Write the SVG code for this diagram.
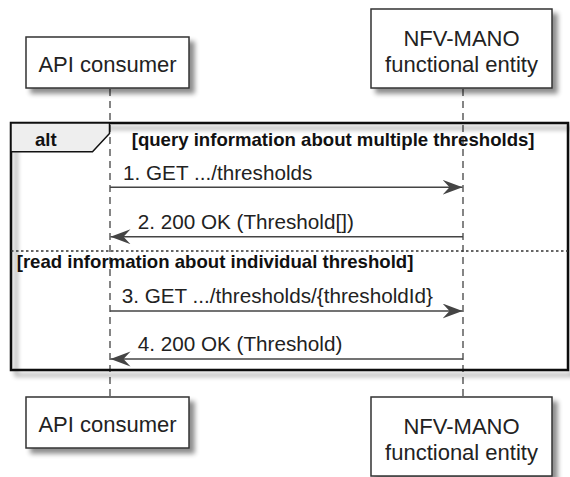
<svg xmlns="http://www.w3.org/2000/svg" width="570" height="477" viewBox="0 0 570 477">
<defs>
<filter id="sh" x="-10%" y="-10%" width="130%" height="140%">
<feGaussianBlur in="SourceAlpha" stdDeviation="2.5"/>
<feOffset dx="5" dy="5" result="b"/>
<feComponentTransfer><feFuncA type="linear" slope="0.45"/></feComponentTransfer>
<feMerge><feMergeNode/><feMergeNode in="SourceGraphic"/></feMerge>
</filter>
<marker id="ah" markerUnits="userSpaceOnUse" markerWidth="22" markerHeight="16" refX="20" refY="7.5" orient="auto">
<path d="M0,0 L20,7.5 L0,15 L7,7.5 Z" fill="#444"/>
</marker>
<style>
.box{fill:#fff;stroke:#333;stroke-width:1.5}
.pt{font-family:"Liberation Sans",Arial,sans-serif;font-size:22px;fill:#222;text-anchor:middle}
.msg{font-family:"Liberation Sans",Arial,sans-serif;font-size:20.7px;fill:#222}
.cond{font-family:"Liberation Sans",Arial,sans-serif;font-size:18.6px;font-weight:bold;fill:#111}
.life{stroke:#444;stroke-width:1.3;stroke-dasharray:7,5;fill:none}
.arr{stroke:#444;stroke-width:1.5;fill:none;marker-end:url(#ah)}
</style>
</defs>
<rect width="570" height="477" fill="#fff"/>
<g id="lifelines">
<line class="life" x1="110" y1="89" x2="110" y2="397"/>
<line class="life" x1="463" y1="89" x2="463" y2="397"/>
</g>
<g id="participant-api-top">
<rect class="box" x="26" y="37" width="163" height="51" filter="url(#sh)"/>
<text class="pt" x="107.5" y="72">API consumer</text>
</g>
<g id="participant-nfv-top">
<rect class="box" x="371" y="9" width="181" height="79" filter="url(#sh)"/>
<text class="pt" x="461.5" y="46">NFV-MANO</text>
<text class="pt" x="461.5" y="71.5">functional entity</text>
</g>
<g id="alt-frame">
<rect x="11" y="123" width="557" height="247" fill="none" stroke="#111" stroke-width="2.5" filter="url(#sh)"/>
<polygon points="11,123 109.5,123 109.5,133.5 92.5,151.7 11,151.7" fill="#eee" stroke="#111" stroke-width="1.5"/>
<text class="cond" x="35" y="146" font-size="21px">alt</text>
<text class="cond" x="131.7" y="146">[query information about multiple thresholds]</text>
<line x1="11" y1="251" x2="568" y2="251" stroke="#333" stroke-width="1.3" stroke-dasharray="2.5,2.5"/>
<text class="cond" x="16.7" y="268">[read information about individual threshold]</text>
</g>
<g id="connectors">
<line class="arr" x1="110" y1="187.3" x2="462.5" y2="187.3"/>
<text class="msg" x="123" y="180">1. GET .../thresholds</text>
<line class="arr" x1="463" y1="236.7" x2="110.5" y2="236.7"/>
<text class="msg" x="137.7" y="228.5">2. 200 OK (Threshold[])</text>
<line class="arr" x1="110" y1="311" x2="462.5" y2="311"/>
<text class="msg" x="121.7" y="303.3">3. GET .../thresholds/{thresholdId}</text>
<line class="arr" x1="463" y1="359" x2="110.5" y2="359"/>
<text class="msg" x="137.7" y="351">4. 200 OK (Threshold)</text>
</g>
<g id="participant-api-bottom">
<rect class="box" x="26" y="397" width="163" height="51" filter="url(#sh)"/>
<text class="pt" x="107.5" y="431.7">API consumer</text>
</g>
<g id="participant-nfv-bottom">
<rect class="box" x="371" y="397" width="181" height="79" filter="url(#sh)"/>
<text class="pt" x="461.5" y="434">NFV-MANO</text>
<text class="pt" x="461.5" y="459.5">functional entity</text>
</g>
</svg>
